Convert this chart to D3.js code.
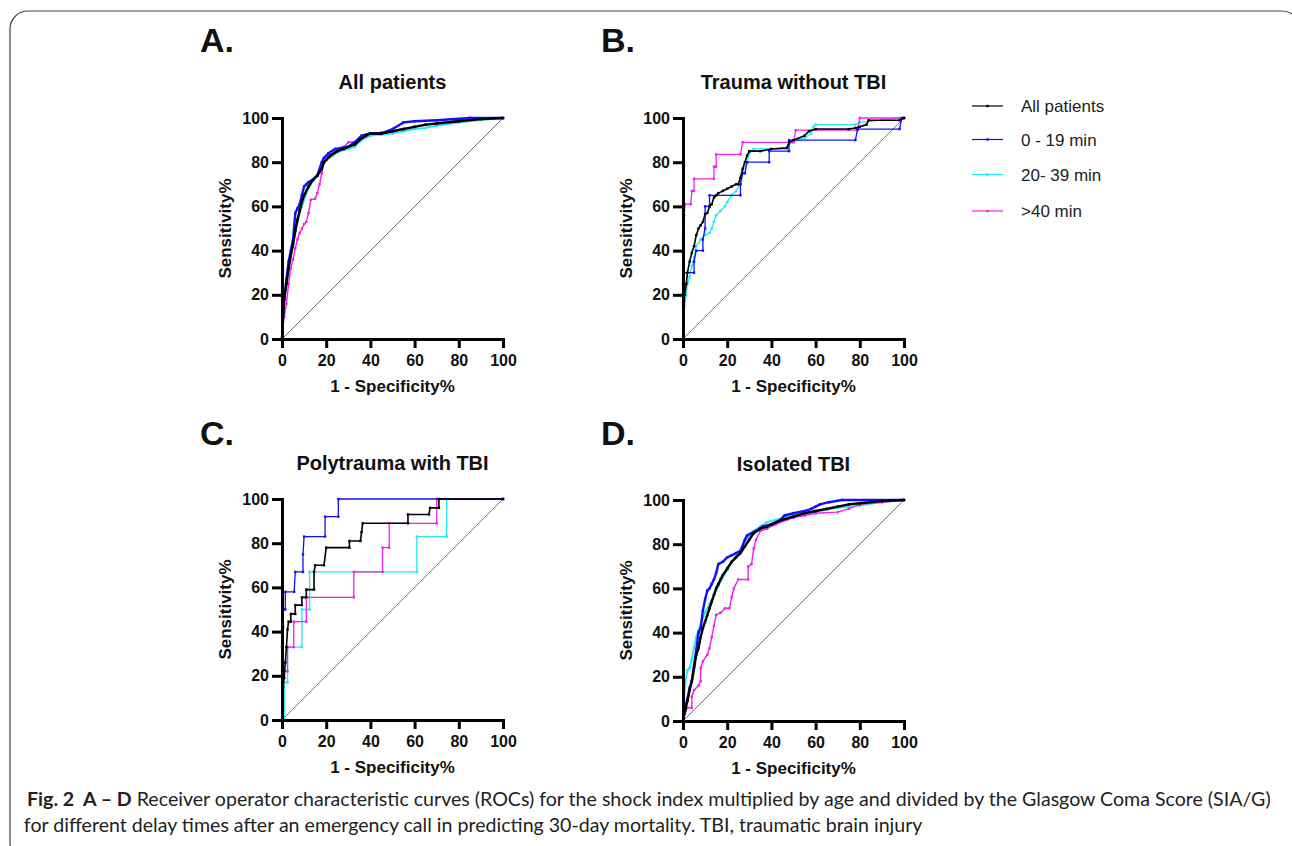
<!DOCTYPE html>
<html>
<head>
<meta charset="utf-8">
<script src="https://cdn.jsdelivr.net/npm/d3@7"></script>
<style>
    html, body { margin: 0; padding: 0; background: #fff; }
    svg { display: block; }
    .tick text { font-family: "Liberation Sans", Arial, sans-serif; font-weight: bold; font-size: 16px; fill: #111; }
</style>
</head>
<body>
<div id="chart"></div>
<script>
'use strict';

// ROC figure, four panels, GraphPad-like look.

var axisTicks = [0, 20, 40, 60, 80, 100];
var seriesNames = ['All patients', '0 - 19 min', '20- 39 min', '>40 min'];
var panelLetters = ['A.', 'B.', 'C.', 'D.'];
var panelTitles = ['All patients', 'Trauma without TBI', 'Polytrauma with TBI', 'Isolated TBI'];
var xLabel = '1 - Specificity%';
var yLabel = 'Sensitivity%';
var captionBold = 'Fig. 2  A – D';
var captionLine1 = ' Receiver operator characteristic curves (ROCs) for the shock index multiplied by age and divided by the Glasgow Coma Score (SIA/G)';
var captionLine2 = 'for different delay times after an emergency call in predicting 30-day mortality. TBI, traumatic brain injury';

// [1 - specificity %, sensitivity %]
var panelA_all = [[0,0],[0.5,12],[1,18],[2,25],[3,32],[4,38],[5,43],[6,49],[7,54],[8,58],[9,62],[10,65],[12,69],[14,72],[16,74],[18,77],[19,80],[20,81],[22,83],[25,85],[28,86],[30,87],[33,88],[35,90],[38,92],[40,93],[45,93],[50,94],[55,95],[60,96],[65,97],[70,97.5],[80,98.5],[90,99.5],[100,100]];
var panelA_early = [[0,0],[0.5,10],[1,18],[2,27],[3,35],[4,40],[5,45],[6,57],[7,59],[8,61],[9,65],[10,69],[11,70],[12,71],[14,72],[16,74],[18,80],[19,82],[21,84],[24,86],[27,86.5],[30,87],[33,89],[36,92],[40,93],[45,93],[50,95],[55,98],[60,98.5],[70,99],[85,100],[100,100]];
var panelA_mid = [[0,0],[0.5,14],[1,20],[2,26],[3,32],[5,42],[7,53],[9,60],[11,66],[13,70],[16,74],[18,78],[20,81],[23,83],[26,85],[30,86],[33,87],[36,90],[40,92],[45,92.5],[50,93],[55,94],[60,95],[65,95.5],[70,96.5],[80,98],[90,99],[100,100]];
var panelA_late = [[0,0],[0.5,8],[1,10],[2,16],[3,25],[4,32],[5,36],[6,41],[7,45],[8,48],[9,50],[10,52],[11,53],[12,57],[13,63],[15,63.5],[16,66],[17,70],[18,75],[19,80],[21,83],[24,85],[28,87],[30,89],[32,89],[34,90],[37,92],[40,93],[45,93.5],[50,94],[55,95],[60,96],[70,97.5],[80,99],[85,100],[100,100]];

var panelB_all = [[0,0],[0.3,10],[0.7,20],[1.5,25],[2,30],[3,35],[4,39],[5,42],[6,47],[7,50],[8,51.5],[9,53],[10,56.5],[11,57],[12,60],[13,61],[14,64],[15,65],[16,66],[18,67],[20,68],[22,69],[24,70],[25,70],[26,73],[27,77],[28,80],[29,83],[30,85],[35,85],[40,86],[47,86.5],[48,89],[50,90],[55,92],[57,94],[60,95],[75,95],[78,95.5],[80,96],[83,97],[84,99],[98,99],[100,100]];
var panelB_early = [[0,0],[0,25],[0.5,30],[5,30],[5,35],[6,40],[9,40],[9,45],[10,50],[10,60],[12,60],[12,65],[26,65],[26,70],[27,75],[28,75],[29,80],[39,80],[39,85],[48,85],[48,90],[78,90],[79,95],[98,95],[99,100],[100,100]];
var panelB_mid = [[0,0],[0.3,8],[0.7,15],[1.5,20],[2,25],[3,28],[4,33],[5,37],[6,42],[8,45],[10,47],[12,48],[13,50],[14,53],[15,56],[17,58],[19,60],[20,62],[22,65],[24,67],[26,70],[27,76],[29,80],[30,84],[32,86],[47,86],[49,89],[51,90],[55,91],[58,93],[59,96],[60,97],[78,97],[80,98],[90,99],[98,100],[100,100]];
var panelB_late = [[0,0],[0,45],[0.5,56],[1,61],[3.5,61],[4,67],[5,67],[5,72.5],[14,72.5],[14,78],[15,78],[15,83.5],[26,83.5],[27,89],[50,89],[51,94.5],[79,94.5],[80,100],[100,100]];

var panelC_all = [[0,0],[0.3,8],[0.5,15],[1,19],[1.5,26],[2,33],[2.5,41],[3,44.5],[4,44.5],[4,48],[6,48],[6,52],[9,52],[9,55.5],[11,55.5],[11,59],[14.5,59],[14.5,67],[15,70],[19,70],[20,78],[30.5,78],[30.5,81],[35.5,81],[36,85],[36.5,89],[57,89],[57,93],[66.5,93],[67,96],[71,96],[71,100],[100,100]];
var panelC_early = [[0,0],[0,33],[0.5,42],[0.5,50],[1.5,50],[1.5,58],[5.5,58],[6,67],[9.5,67],[9.5,75],[10,83],[19.5,83],[19.5,92],[25.5,92],[25.5,100],[100,100]];
var panelC_mid = [[0,0],[1,0],[1,17],[2.5,17],[2.5,33],[9,33],[9,50],[12.5,50],[12.5,67],[61,67],[61,83],[74.5,83],[74.5,100],[100,100]];
var panelC_late = [[0,0],[0,22],[2.5,22],[2.5,33],[5.3,33],[5.3,44.5],[11,44.5],[11,55.5],[32.5,55.5],[32.5,67],[45.5,67],[45.5,78],[48.5,78],[48.5,89],[70,89],[70,100],[100,100]];

var panelD_all = [[0,0],[1,5],[2,9],[3,14],[4,18],[5,24],[6,30],[7,33],[8,38],[9,42],[10,45],[11,48],[12,51],[13,54],[14,57],[15,60],[16,62],[17,64],[18,66],[20,69],[22,72],[24,74],[26,76],[28,79],[30,82],[32,85],[35,87],[38,88],[40,89],[45,91],[50,92.5],[55,94],[60,95],[65,96],[70,97],[75,98],[80,98.5],[90,99.5],[100,100]];
var panelD_early = [[0,0],[1,6],[2,10],[3,15],[4,18],[5,25],[6,32],[7,40],[8,42],[9,50],[10,55],[11,59],[12,60],[13,62],[14,64],[15,67],[16,71],[18,72],[20,74],[22,75],[24,76],[26,77],[28,82],[29,84],[31,85],[33,86],[36,88],[40,89],[44,91],[46,93],[50,94],[55,95],[58,96],[60,97],[62,98],[66,99],[72,100],[100,100]];
var panelD_mid = [[0,0],[0.5,10],[1,17],[2,23],[3,24],[4,28],[5,33],[6,38],[7,41],[8,44],[10,49],[12,53],[14,57],[16,61],[18,65],[20,68],[22,72],[24,75],[26,77],[28,81],[30,84],[32,86],[35,88],[38,90],[42,91],[46,92],[50,93],[55,94],[60,94.5],[65,95.5],[70,96.5],[75,97],[80,97.5],[90,99],[100,100]];
var panelD_late = [[0,0],[1,4],[2,6],[4,6],[4,11],[5,14],[7,16],[8,18],[8,24],[9,27],[11,30],[12,33],[13,38],[14,43],[15,48],[17,49],[19,51],[21,51],[22,56],[23,60],[25,64],[29.5,64],[29.5,70],[31,71],[32,78],[33,82],[35,86],[38,87],[42,89],[47,91],[50,92],[55,93],[60,94],[70,94.5],[75,96],[80,98],[90,99],[100,100]];

var W = 1292, H = 846;

var colors = ['#000000', '#1010ff', '#22e8f2', '#f020f0'];
// order of drawing: cyan, magenta, blue, black (black on top)
var drawOrder = [2, 3, 1, 0];

var panels = [
    { left: 282, top: 118, letterX: 200, letterY: 52,  thick: true,  data: [panelA_all, panelA_early, panelA_mid, panelA_late] },
    { left: 683, top: 118, letterX: 601, letterY: 52,  thick: false, data: [panelB_all, panelB_early, panelB_mid, panelB_late] },
    { left: 282, top: 499, letterX: 200, letterY: 445, thick: false, data: [panelC_all, panelC_early, panelC_mid, panelC_late] },
    { left: 683, top: 500, letterX: 601, letterY: 445, thick: true,  data: [panelD_all, panelD_early, panelD_mid, panelD_late] }
];
var size = 221;

var svg = d3.select('#chart').append('svg')
            .attr('width', W)
            .attr('height', H);

// frame round the figure
svg.append('rect')
   .attr('x', 10).attr('y', 11)
   .attr('width', 1290).attr('height', 850)
   .attr('rx', 18).attr('ry', 18)
   .attr('fill', 'none')
   .attr('stroke', '#444')
   .attr('stroke-width', 1.2);

var font = '"Liberation Sans", Arial, sans-serif';

panels.forEach(function (p, i) {
    var x = d3.scaleLinear().domain([0, 100]).range([0, size]),
        y = d3.scaleLinear().domain([0, 100]).range([size, 0]),
        g = svg.append('g').attr('transform', 'translate(' + p.left + ',' + p.top + ')'),
        line = d3.line()
                 .x(function (d) { return x(d[0]); })
                 .y(function (d) { return y(d[1]); });

    svg.append('text')
       .attr('x', p.letterX).attr('y', p.letterY)
       .attr('font-family', font).attr('font-weight', 'bold').attr('font-size', 34)
       .attr('fill', '#111')
       .text(panelLetters[i]);

    g.append('text')
     .attr('x', size / 2).attr('y', -29)
     .attr('text-anchor', 'middle')
     .attr('font-family', font).attr('font-weight', 'bold').attr('font-size', 20)
     .attr('fill', '#111')
     .text(panelTitles[i]);

    // reference diagonal
    g.append('line')
     .attr('x1', x(0)).attr('y1', y(0))
     .attr('x2', x(100)).attr('y2', y(100))
     .attr('stroke', '#555').attr('stroke-width', 0.8);

    drawOrder.forEach(function (s) {
        var w = p.thick ? (s < 2 ? 2.4 : 1.8) : (s === 0 ? 1.6 : 1.3);
        if (p.thick && s === 3) { w = 1.4; }

        g.append('path')
         .datum(p.data[s])
         .attr('fill', 'none')
         .attr('stroke', colors[s])
         .attr('stroke-width', w)
         .attr('stroke-linejoin', 'round')
         .attr('d', line);

        g.selectAll(null)
         .data(p.data[s])
         .enter()
         .append('rect')
         .attr('x', function (d) { return x(d[0]) - 1.2; })
         .attr('y', function (d) { return y(d[1]) - 1.2; })
         .attr('width', 2.4).attr('height', 2.4)
         .attr('fill', colors[s]);
    });

    var xAxis = g.append('g')
                 .attr('transform', 'translate(0,' + size + ')')
                 .call(d3.axisBottom(x).tickValues(axisTicks).tickSize(9).tickSizeOuter(0).tickPadding(7));
    var yAxis = g.append('g')
                 .call(d3.axisLeft(y).tickValues(axisTicks).tickSize(10).tickSizeOuter(0).tickPadding(3));

    [xAxis, yAxis].forEach(function (a) {
        a.select('.domain').attr('stroke', '#000').attr('stroke-width', 3).attr('stroke-linecap', 'square');
        a.selectAll('.tick line').attr('stroke', '#000').attr('stroke-width', 3);
        a.attr('font-family', null).attr('font-size', null);
    });

    g.append('text')
     .attr('x', size / 2).attr('y', size + 53)
     .attr('text-anchor', 'middle')
     .attr('font-family', font).attr('font-weight', 'bold').attr('font-size', 17)
     .attr('fill', '#111')
     .text(xLabel);

    g.append('text')
     .attr('transform', 'translate(-51,' + (size / 2) + ') rotate(-90)')
     .attr('text-anchor', 'middle')
     .attr('font-family', font).attr('font-weight', 'bold').attr('font-size', 17)
     .attr('fill', '#111')
     .text(yLabel);
});

// legend
var legend = svg.append('g').attr('transform', 'translate(972,106)'),
    legendStep = [0, 33.5, 68.5, 105];

seriesNames.forEach(function (name, i) {
    var row = legend.append('g').attr('transform', 'translate(0,' + legendStep[i] + ')');

    row.append('line')
       .attr('x1', 0).attr('x2', 31)
       .attr('stroke', colors[i]).attr('stroke-width', 1.2);
    row.append('rect')
       .attr('x', 14.3).attr('y', -1.2)
       .attr('width', 2.4).attr('height', 2.4)
       .attr('fill', colors[i]);
    row.append('text')
       .attr('x', 49).attr('y', 6)
       .attr('font-family', font).attr('font-size', 17)
       .attr('fill', '#222')
       .text(name);
});

// caption: Myriad-like look, so a slightly narrowed humanist face
var capFont = 'Lato, "Open Sans", sans-serif',
    capSize = 18.5,
    capG = svg.append('g'),
    cap1 = capG.append('text').attr('x', 0).attr('y', 806),
    cap2 = capG.append('text').attr('x', -3).attr('y', 832);

[cap1, cap2].forEach(function (t) {
    t.attr('font-family', capFont)
     .attr('font-size', capSize)
     .attr('fill', '#222')
     .attr('xml:space', 'preserve')
     .style('white-space', 'pre');
});

cap1.append('tspan').attr('font-weight', 'bold').text(captionBold);
cap1.append('tspan').text(captionLine1);
cap2.text(captionLine2);

var squeeze = 1244 / cap1.node().getComputedTextLength();
capG.attr('transform', 'translate(27,0) scale(' + squeeze + ',1)');
</script>
</body>
</html>
